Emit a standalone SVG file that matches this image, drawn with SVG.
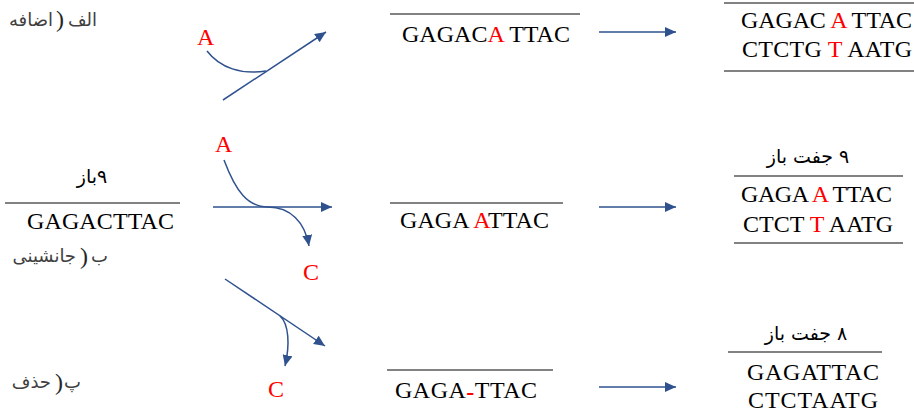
<svg xmlns="http://www.w3.org/2000/svg" width="914" height="419" viewBox="0 0 914 419">
<defs>
<marker id="ah" markerUnits="userSpaceOnUse" markerWidth="12" markerHeight="10" refX="11" refY="5" orient="auto">
<path d="M0,0 L11,5 L0,10 Z" fill="#2F528F"/>
</marker>
<style>
.seq{font-family:"Liberation Serif","Times New Roman",serif;font-size:24px;fill:#000}
.red{fill:#FF0000}
.fa{font-family:"DejaVu Sans","Noto Sans",sans-serif;font-size:18px;fill:#404040}
.par{font-family:"Liberation Serif",serif;font-size:24px;fill:#262626;direction:ltr;unicode-bidi:bidi-override}
.fab{font-family:"DejaVu Sans","Noto Sans",sans-serif;font-size:19px;fill:#000}
.strand{stroke:#595959;stroke-width:1.5;fill:none}
.arr{stroke:#2F528F;stroke-width:1.5;fill:none;marker-end:url(#ah)}
.cur{stroke:#2F528F;stroke-width:1.5;fill:none}
</style>
</defs>

<g id="label-addition">
<text class="fa" x="97" y="26" text-anchor="end">الف</text>
<text class="par" x="56" y="27">)</text>
<text class="fa" x="53" y="26" text-anchor="end">اضافه</text>
</g>
<g id="label-substitution">
<text class="fa" x="108" y="262" text-anchor="end">ب</text>
<text class="par" x="80" y="264">)</text>
<text class="fa" x="76" y="262" text-anchor="end">جانشینی</text>
</g>
<g id="label-deletion">
<text class="fa" x="81" y="388" text-anchor="end">پ</text>
<text class="par" x="55" y="390">)</text>
<text class="fa" x="51" y="388" text-anchor="end">حذف</text>
</g>

<g id="original">
<text class="fab" x="92" y="183" text-anchor="middle" direction="rtl">۹باز</text>
<line class="strand" x1="5" y1="203" x2="180" y2="203"/>
<text class="seq" x="27" y="229" textLength="147">GAGACTTAC</text>
</g>

<g id="base-A-top"><text class="seq red" x="197" y="45">A</text></g>
<g id="base-A-mid"><text class="seq red" x="215" y="152">A</text></g>
<g id="base-C-mid"><text class="seq red" x="303" y="280">C</text></g>
<g id="base-C-bot"><text class="seq red" x="268" y="397">C</text></g>

<g id="mutated-addition">
<line class="strand" x1="390" y1="14" x2="580" y2="14"/>
<text class="seq" x="402" y="42" textLength="168">GAGAC<tspan class="red">A</tspan> TTAC</text>
</g>
<g id="mutated-substitution">
<line class="strand" x1="390" y1="203" x2="563" y2="203"/>
<text class="seq" x="400" y="228" textLength="149">GAGA <tspan class="red">A</tspan>TTAC</text>
</g>
<g id="mutated-deletion">
<line class="strand" x1="387" y1="370" x2="553" y2="370"/>
<text class="seq" x="395" y="398" textLength="142">GAGA<tspan class="red" font-weight="bold" dy="2">-</tspan><tspan dy="-2">TTAC</tspan></text>
</g>

<g id="result-addition">
<line class="strand" x1="724" y1="3" x2="914" y2="3"/>
<text class="seq" x="741" y="28" textLength="171">GAGAC <tspan class="red">A</tspan> TTAC</text>
<text class="seq" x="742" y="57" textLength="170">CTCTG <tspan class="red">T</tspan> AATG</text>
<line class="strand" x1="724" y1="71" x2="914" y2="71"/>
</g>
<g id="result-substitution">
<text class="fab" x="808" y="163" text-anchor="middle" direction="rtl">۹ جفت باز</text>
<line class="strand" x1="734" y1="176" x2="903" y2="176"/>
<text class="seq" x="741" y="202" textLength="151">GAGA <tspan class="red">A</tspan> TTAC</text>
<text class="seq" x="743" y="232" textLength="150">CTCT <tspan class="red">T</tspan> AATG</text>
<line class="strand" x1="734" y1="243" x2="903" y2="243"/>
</g>
<g id="result-deletion">
<text class="fab" x="806" y="340" text-anchor="middle" direction="rtl">۸ جفت باز</text>
<line class="strand" x1="728" y1="352" x2="882" y2="352"/>
<text class="seq" x="747" y="380" textLength="132">GAGATTAC</text>
<text class="seq" x="748" y="408" textLength="130">CTCTAATG</text>
</g>

<g id="connectors">
<line class="arr" x1="223" y1="100" x2="326" y2="32"/>
<path class="cur" d="M207,51 C220,68 242,75 266,71"/>
<line class="arr" x1="213" y1="207" x2="332" y2="207"/>
<path class="arr" d="M224,160 C236,192 248,207 268,207 C290,207 305,222 309,246"/>
<line class="arr" x1="225" y1="279" x2="325" y2="346"/>
<path class="arr" d="M280,316 C289,324 290,345 285,366"/>
<line class="arr" x1="599" y1="32" x2="676" y2="32"/>
<line class="arr" x1="599" y1="207" x2="676" y2="207"/>
<line class="arr" x1="599" y1="387" x2="676" y2="387"/>
</g>
</svg>
